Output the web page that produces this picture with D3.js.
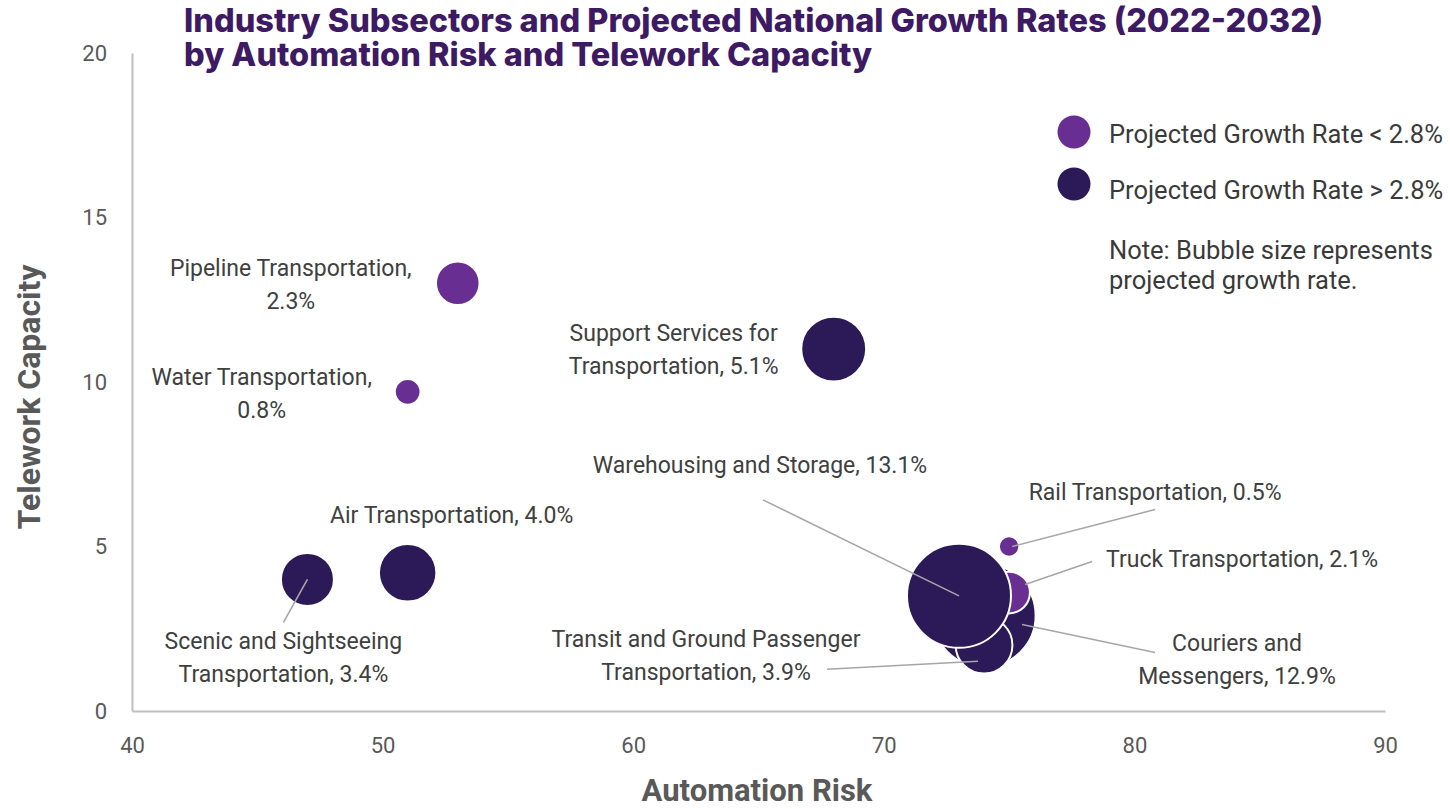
<!DOCTYPE html>
<html>
<head>
<meta charset="utf-8">
<script src="https://cdn.jsdelivr.net/npm/d3@7"></script>
<style>
  html, body { margin: 0; padding: 0; background: #ffffff; }
  svg { display: block; }
</style>
</head>
<body>
<svg id="chart" width="1450" height="809"></svg>
<script>
// ---- Data ----
const sectors = [
  "Air Transportation",
  "Couriers and Messengers",
  "Pipeline Transportation",
  "Rail Transportation",
  "Scenic and Sightseeing Transportation",
  "Support Services for Transportation",
  "Transit and Ground Passenger Transportation",
  "Truck Transportation",
  "Warehousing and Storage",
  "Water Transportation"
];
const automationRisk   = [51, 74, 53, 75, 47, 68, 74, 75, 73, 51];
const teleworkCapacity = [4.2, 2.9, 13, 5, 4.0, 11, 2.0, 3.6, 3.5, 9.7];
const growthRate       = [4.0, 12.9, 2.3, 0.5, 3.4, 5.1, 3.9, 2.1, 13.1, 0.8];
const threshold = 2.8;

const xTicks = [40, 50, 60, 70, 80, 90];
const yTicks = [0, 5, 10, 15, 20];

const titleLines = [
  "Industry Subsectors and Projected National Growth Rates (2022-2032)",
  "by Automation Risk and Telework Capacity"
];
const legendLabels = ["Projected Growth Rate < 2.8%", "Projected Growth Rate > 2.8%"];
const noteLines = ["Note: Bubble size represents", "projected growth rate."];

// ---- Label layout (pixel offsets from bubble centre) ----
const labelLayout = {
  "Air Transportation":                          { dx: 44,   dy: -58,  words: 0 },
  "Couriers and Messengers":                     { dx: 253,  dy: 27,   words: 2, ls: [171, 37], le: [38, 9] },
  "Pipeline Transportation":                     { dx: -167, dy: -15,  words: 2 },
  "Rail Transportation":                         { dx: 146,  dy: -55,  words: 0, ls: [146, -37], le: [3, 0] },
  "Scenic and Sightseeing Transportation":       { dx: -24,  dy: 62,   words: 3, ls: [-24, 43], le: [0, 0] },
  "Support Services for Transportation":         { dx: -160, dy: -16,  words: 3 },
  "Transit and Ground Passenger Transportation": { dx: -278, dy: -6,   words: 4, ls: [-157, 24], le: [-6, 16] },
  "Truck Transportation":                        { dx: 233,  dy: -34,  words: 0, ls: [83, -31], le: [16, -8] },
  "Warehousing and Storage":                     { dx: -199, dy: -131, words: 0, ls: [-196, -96], le: [0, 0] },
  "Water Transportation":                        { dx: -146, dy: -15,  words: 2 }
};

const colorLow = "#682e91";
const colorHigh = "#2b1a57";

const svg = d3.select("#chart");

const x = d3.scaleLinear().domain([40, 90]).range([132, 1385]);
const y = d3.scaleLinear().domain([0, 20]).range([711, 53]);
const r = d3.scaleSqrt().domain([0, d3.max(growthRate)]).range([0, 52]);

const data = sectors.map((s, i) => ({
  name: s, ax: automationRisk[i], ty: teleworkCapacity[i], g: growthRate[i]
}));

const baseFont = "Roboto, 'Open Sans', sans-serif";

// ---- Axes ----
const xAxis = svg.append("g")
  .attr("transform", `translate(0,${y(0)})`)
  .call(d3.axisBottom(x).tickValues(xTicks).tickSize(0).tickPadding(26).tickFormat(d3.format("d")));
const yAxis = svg.append("g")
  .attr("transform", `translate(${x(40)},0)`)
  .call(d3.axisLeft(y).tickValues(yTicks).tickSize(0).tickPadding(25).tickFormat(d3.format("d")));

[xAxis, yAxis].forEach(a => {
  a.select(".domain").attr("stroke", "#bfbfbf").attr("stroke-width", 2);
  a.selectAll("text")
    .attr("fill", "#595959")
    .style("font-family", baseFont)
    .style("font-size", "22px");
});

// Axis titles
svg.append("text")
  .attr("x", 757).attr("y", 801)
  .attr("text-anchor", "middle")
  .attr("fill", "#595959")
  .style("font-family", baseFont)
  .style("font-weight", "bold")
  .style("font-size", "31px")
  .text("Automation Risk");

svg.append("text")
  .attr("transform", `translate(40,397) rotate(-90)`)
  .attr("text-anchor", "middle")
  .attr("fill", "#595959")
  .style("font-family", baseFont)
  .style("font-weight", "bold")
  .style("font-size", "32px")
  .text("Telework Capacity");

// ---- Title ----
svg.append("g").selectAll("text").data(titleLines).join("text")
  .attr("x", 184)
  .attr("y", (d, i) => 32 + i * 34)
  .attr("fill", "#3d1a63")
  .style("font-family", "Inter, 'Open Sans', sans-serif")
  .style("font-weight", 800)
  .style("font-size", "32.5px")
  .text(d => d);

// ---- Bubbles ----
svg.append("g").selectAll("circle").data(data).join("circle")
  .attr("cx", d => x(d.ax))
  .attr("cy", d => y(d.ty))
  .attr("r", d => r(d.g))
  .attr("fill", d => d.g < threshold ? colorLow : colorHigh)
  .attr("stroke", "#ffffff")
  .attr("stroke-width", 2);

// ---- Leader lines ----
svg.append("g").selectAll("line").data(data.filter(d => labelLayout[d.name].ls)).join("line")
  .attr("x1", d => x(d.ax) + labelLayout[d.name].ls[0])
  .attr("y1", d => y(d.ty) + labelLayout[d.name].ls[1])
  .attr("x2", d => x(d.ax) + labelLayout[d.name].le[0])
  .attr("y2", d => y(d.ty) + labelLayout[d.name].le[1])
  .attr("stroke", "#a6a6a6")
  .attr("stroke-width", 1.6);

// ---- Data labels ----
const lg = svg.append("g");
data.forEach(d => {
  const L = labelLayout[d.name];
  const full = `${d.name}, ${d.g.toFixed(1)}%`;
  const words = full.split(" ");
  const lines = L.words ? [words.slice(0, L.words).join(" "), words.slice(L.words).join(" ")] : [full];
  const t = lg.append("text")
    .attr("text-anchor", "middle")
    .attr("fill", "#404040")
    .style("font-family", baseFont)
    .style("font-size", "23px");
  lines.forEach((ln, i) => {
    t.append("tspan")
      .attr("x", x(d.ax) + L.dx)
      .attr("y", y(d.ty) + L.dy + i * 33)
      .attr("dy", "0.35em")
      .text(ln);
  });
});

// ---- Legend ----
const leg = svg.append("g");
[colorLow, colorHigh].forEach((c, i) => {
  leg.append("circle").attr("cx", 1074).attr("cy", 132 + i * 52).attr("r", 16.5).attr("fill", c);
  leg.append("text")
    .attr("x", 1109).attr("y", 143 + i * 56)
    .attr("fill", "#3a3a3a")
    .style("font-family", baseFont)
    .style("font-size", "25.5px")
    .text(legendLabels[i]);
});
noteLines.forEach((n, i) => {
  leg.append("text")
    .attr("x", 1109).attr("y", 259 + i * 30)
    .attr("fill", "#3a3a3a")
    .style("font-family", baseFont)
    .style("font-size", "25.5px")
    .text(n);
});
</script>
</body>
</html>
